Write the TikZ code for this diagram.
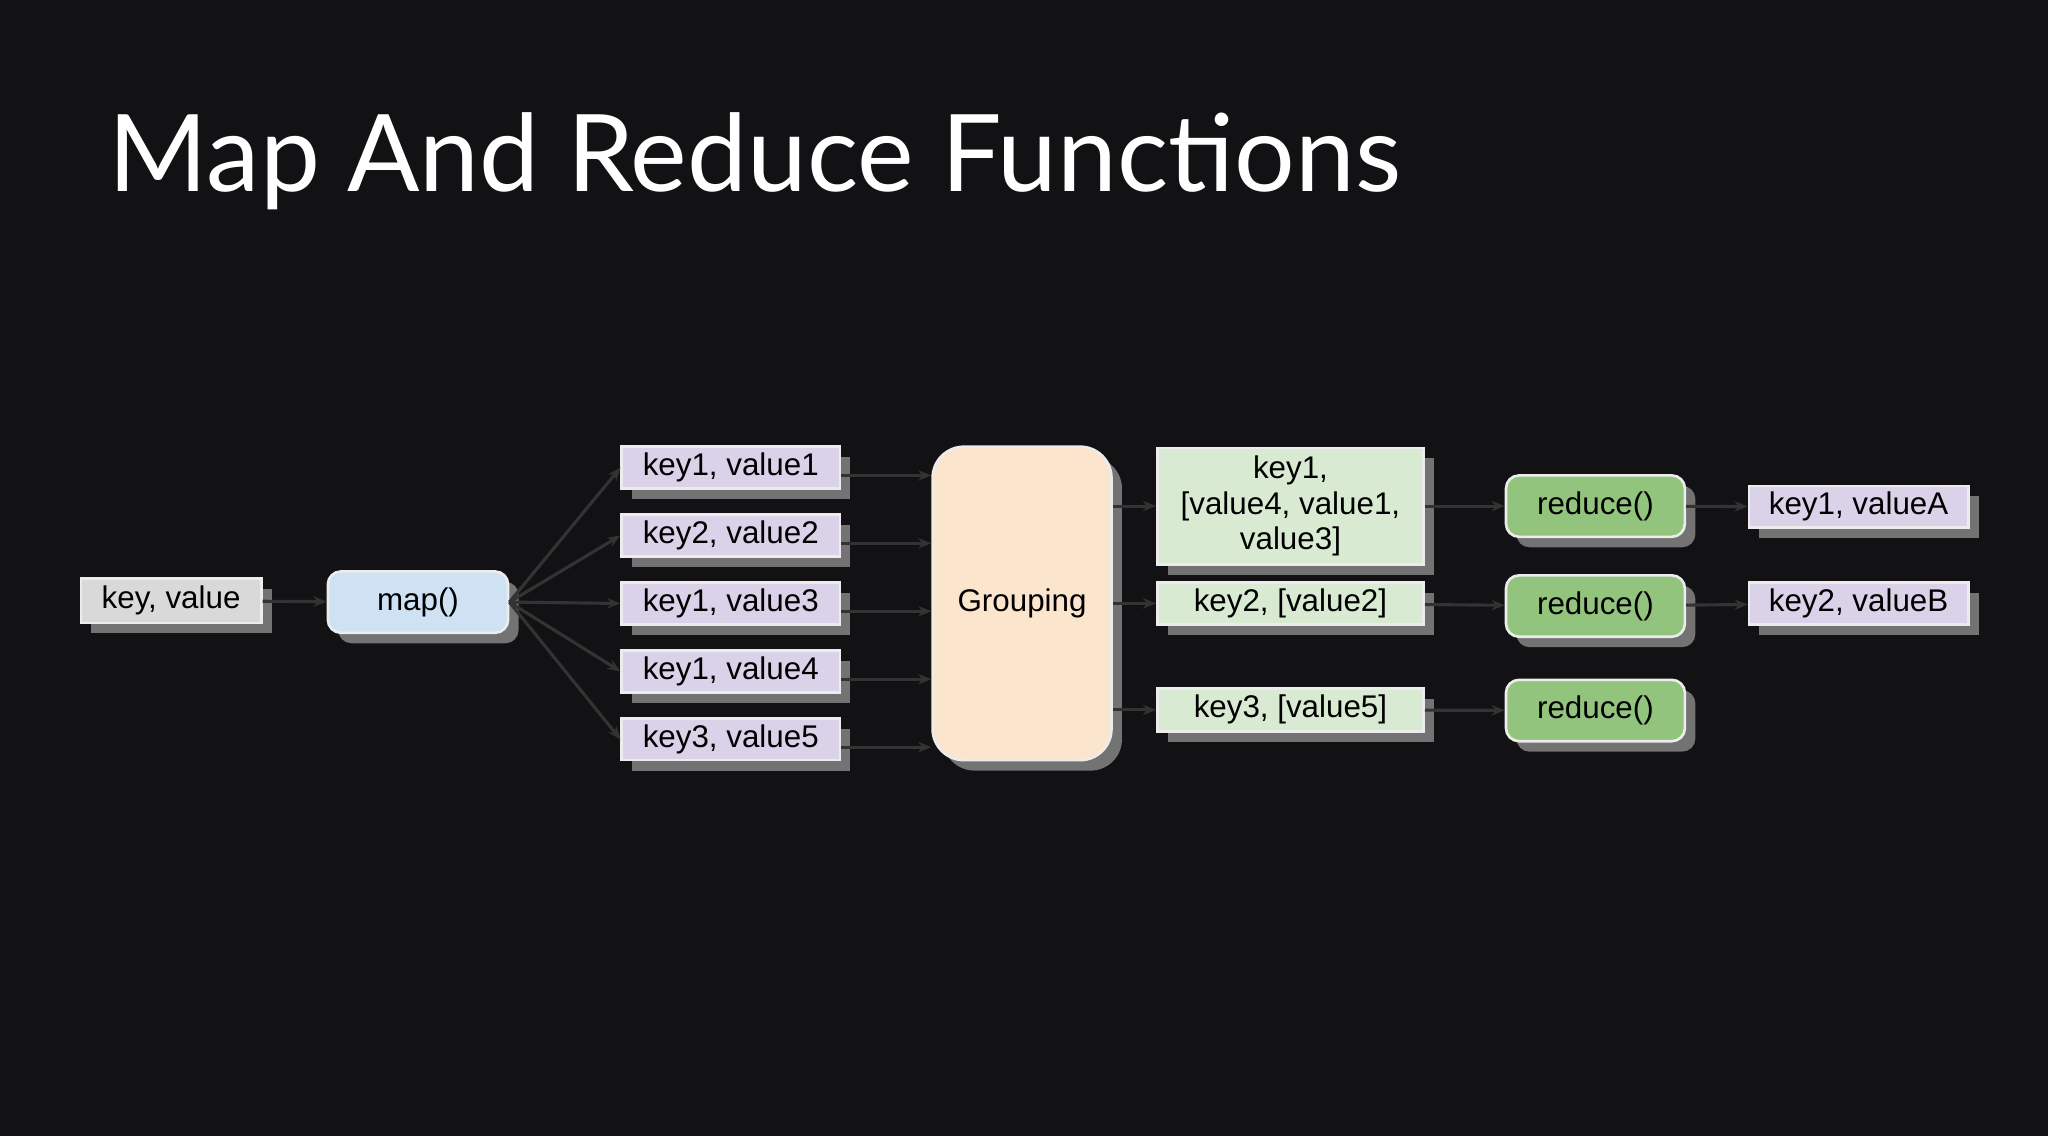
\documentclass[tikz,border=0pt]{standalone}
\usepackage{fontspec}
\setmainfont{Liberation Sans}
\newfontfamily\titlefont{Lato}
\usetikzlibrary{shadows,arrows.meta}
\definecolor{bg}{HTML}{121113}
\definecolor{lav}{HTML}{D9D2E9}
\definecolor{lblue}{HTML}{CFE2F3}
\definecolor{peach}{HTML}{FCE5CD}
\definecolor{lgreen}{HTML}{D9EAD3}
\definecolor{dgreen}{HTML}{93C47D}
\definecolor{lgray}{HTML}{D9D9D9}
\begin{document}
\begin{tikzpicture}[x=0.5pt,y=-0.5pt,
  box/.style={draw=white!85!gray, line width=1pt, inner sep=0pt, align=center,
    font=\fontsize{12}{13}\selectfont, text=black,
    drop shadow={shadow xshift=4pt, shadow yshift=-4pt, fill=black!55!white, opacity=1}},
  rbox/.style={box, rounded corners=5pt},
  arr/.style={draw=black!80, line width=1.2pt, -{Stealth[length=5pt,width=4pt]}}]
\fill[bg] (0,0) rectangle (1568,870);
\useasboundingbox (0,0) rectangle (1568,870);
\node[anchor=base west, text=white, font=\titlefont\fontsize{41}{45}\selectfont, inner sep=0pt] (title) at (83,147) {Map And Reduce Functions};
\node[box, fill=lgray, minimum width=69pt, minimum height=17pt] (kv) at (131,460) {key, value};
\node[rbox, fill=lblue, minimum width=69pt, minimum height=23.5pt] (map) at (320,461) {map()};
\foreach \n/\t/\y in {a/{key1, value1}/358, b/{key2, value2}/410, c/{key1, value3}/462, d/{key1, value4}/514, e/{key3, value5}/566}
  \node[box, fill=lav, minimum width=83.5pt, minimum height=16pt] (\n) at (559.5,\y) {\t};
\node[rbox, rounded corners=12pt, fill=peach, minimum width=68.5pt, minimum height=120pt] (G) at (782.5,462) {Grouping};
\node[box, fill=lgreen, minimum width=102pt, minimum height=44.5pt, font=\fontsize{12}{13.5}\selectfont] (g1) at (988,387.5) {key1,\\{}[value4, value1,\\value3]};
\node[box, fill=lgreen, minimum width=102pt, minimum height=16pt] (g2) at (988,462) {key2, [value2]};
\node[box, fill=lgreen, minimum width=102pt, minimum height=16.5pt] (g3) at (988,543.5) {key3, [value5]};
\foreach \n/\y in {r1/387.5, r2/464, r3/544}
  \node[rbox, fill=dgreen, minimum width=68.5pt, minimum height=23.5pt] (\n) at (1221.5,\y) {reduce()};
\node[box, fill=lav, minimum width=84pt, minimum height=16pt] (o1) at (1423,388) {key1, valueA};
\node[box, fill=lav, minimum width=84pt, minimum height=16pt] (o2) at (1423,462) {key2, valueB};
\draw[arr] (kv) -- (map);
\foreach \n in {a,b,c,d,e} {
  \draw[arr] (map.east) -- (\n.west);
  \draw[arr] ([yshift=-3pt]\n.east) -- ([yshift=-3pt]\n.east -| G.west);
}
\foreach \n in {g1,g2,g3} \draw[arr] (\n.west -| G.east) -- (\n.west);
\draw[arr] (g1) -- (r1);
\draw[arr] (g2) -- (r2);
\draw[arr] (g3) -- (r3);
\draw[arr] (r1) -- (o1);
\draw[arr] (r2) -- (o2);
\end{tikzpicture}
\end{document}
